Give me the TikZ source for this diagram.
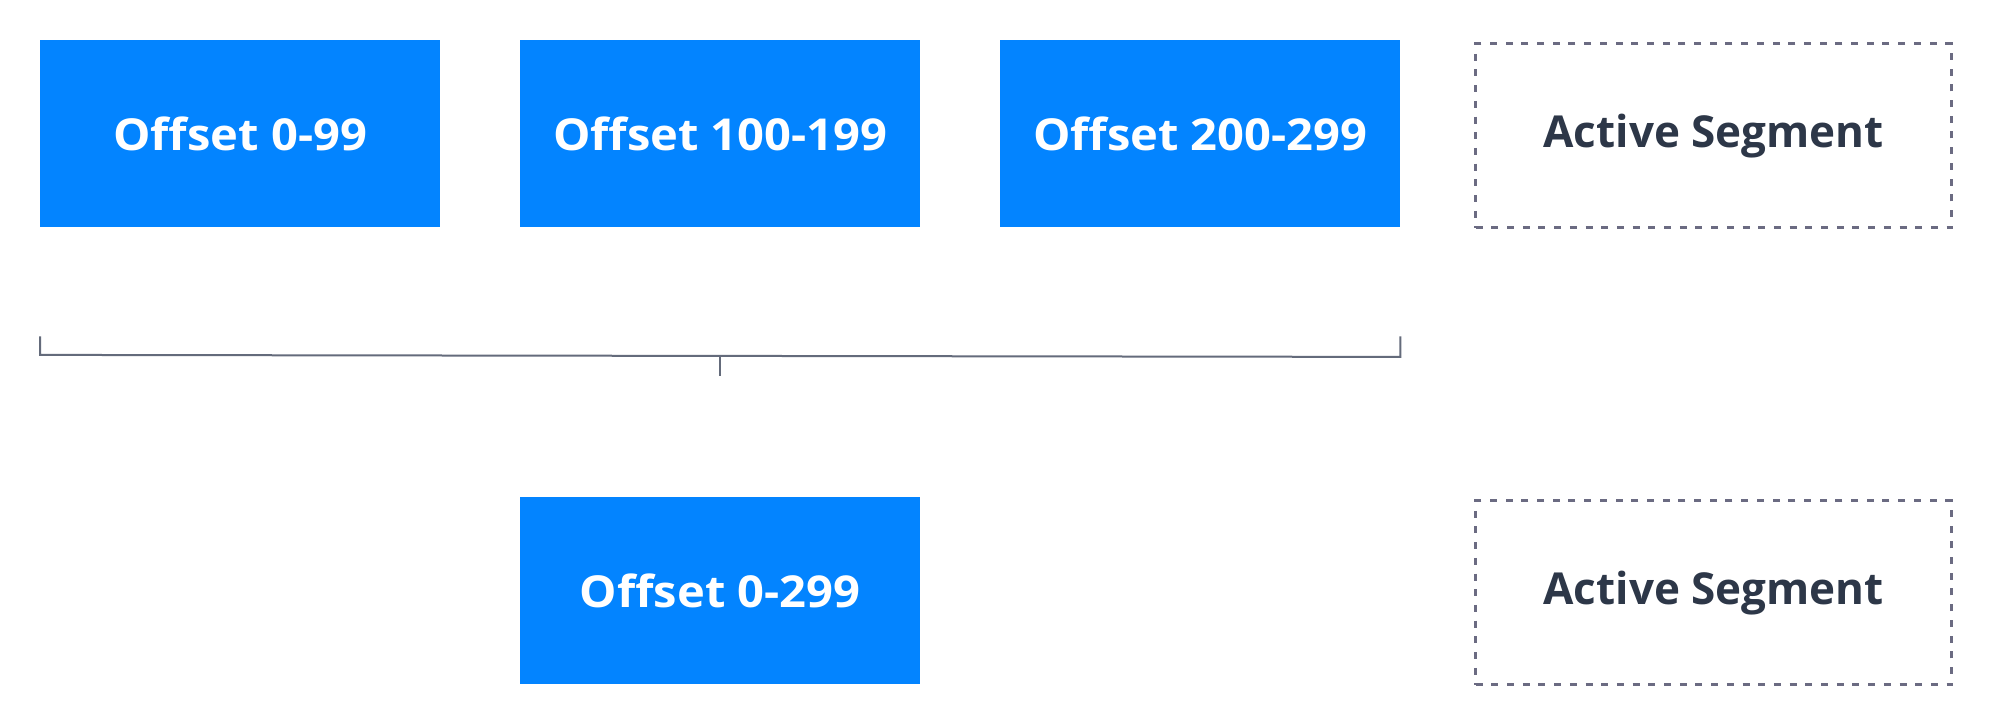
\documentclass[tikz,border=0pt]{standalone}
\usepackage{fontspec}
\setmainfont{Open Sans}
\newfontfamily\offsetfont{Open Sans}[FakeStretch=1.07]
\usetikzlibrary{calc}
\definecolor{segblue}{RGB}{3,132,255}
\definecolor{segdark}{RGB}{45,55,72}
\definecolor{segdash}{RGB}{107,107,130}
\definecolor{segline}{RGB}{100,107,123}
\begin{document}
\begin{tikzpicture}[x=1pt,y=-1pt,
  seg/.style={fill=segblue, draw=none, minimum width=400pt, minimum height=187pt,
    inner sep=0pt, anchor=north west, text=white, font=\offsetfont\fontsize{44}{50}\selectfont\bfseries},
  active/.style={draw=segdash, line width=3.3pt, dash pattern=on 7pt off 8.7pt,
    minimum width=476pt, minimum height=184pt, inner sep=0pt, anchor=north west,
    text=segdark, font=\fontsize{44}{50}\selectfont\bfseries},
  bracket/.style={draw=segline, line width=2pt}]
\useasboundingbox (0,0) rectangle (1992,724);
\fill[white] (0,0) rectangle (1992,724);
\node[seg] (b1) at (40,40) {Offset 0-99};
\node[seg] (b2) at (520,40) {Offset 100-199};
\node[seg] (b3) at (1000,40) {Offset 200-299};
\node[active] (a1) at (1474,42) {Active Segment};
\node[seg] (b4) at (520,497) {Offset 0-299};
\node[active] (a2) at (1474,499) {Active Segment};
\coordinate (bl) at ($(b1.south west)+(0,109)$);
\coordinate (br) at ($(b3.south east)+(0,109)$);
\coordinate (blb) at ($(bl)+(0,18.5)$);
\coordinate (brb) at ($(br)+(0,20.5)$);
\coordinate (bm) at ($(blb)!0.5!(brb)$);
\coordinate (bt) at ($(bm)+(0,20)$);
\draw[bracket] (bl) -- (blb) -- (brb) -- (br);
\draw[bracket] (bm) -- (bt);
\end{tikzpicture}
\end{document}
